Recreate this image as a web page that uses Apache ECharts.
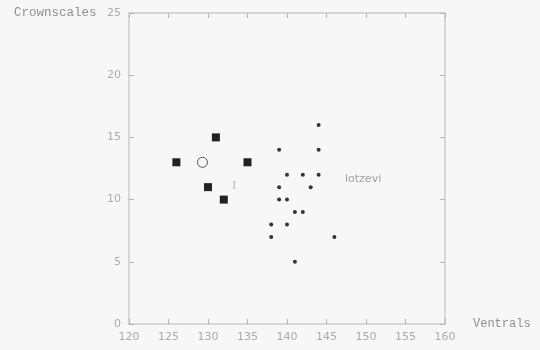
<!DOCTYPE html>
<html><head><meta charset="utf-8">
<script src="https://cdn.jsdelivr.net/npm/echarts@6/dist/echarts.min.js"></script>
<style>html,body{margin:0;padding:0;background:#f7f7f7}#c{width:540px;height:350px}</style>
</head><body><div id="c"></div>
<script>
var xTicks = [120,125,130,135,140,145,150,155,160];
var yTicks = [0,5,10,15,20,25];
var squares = [[131,15],[126,13],[135,13],[130,11],[132,10]];
var openCircle = [[129.3,13]];
var lotzeviDots = [[144,16],[139,14],[144,14],[140,12],[142,12],[144,12],[139,11],[143,11],[139,10],[140,10],[141,9],[142,9],[138,8],[140,8],[138,7],[146,7],[141,5]];

var chart = echarts.init(document.getElementById('c'));
var axisCol = '#cdcdcd';
var labCol = '#ababab';
function xa(pos, showLab){
  return {type:'value', position:pos, min:xTicks[0], max:xTicks[xTicks.length-1], interval:5,
    axisLine:{show:true, onZero:false, lineStyle:{color:axisCol, width:1.5}},
    axisTick:{show:true, inside:true, length:5, lineStyle:{color:'#b5b5b5'}},
    axisLabel:{show:showLab, color:labCol, fontFamily:'DejaVu Sans', fontSize:11, margin:8},
    splitLine:{show:false}};
}
function ya(pos, showLab){
  return {type:'value', position:pos, min:yTicks[0], max:yTicks[yTicks.length-1], interval:5,
    axisLine:{show:true, onZero:false, lineStyle:{color:axisCol, width:1.5}},
    axisTick:{show:true, inside:true, length:5, lineStyle:{color:'#b5b5b5'}},
    axisLabel:{show:showLab, color:labCol, fontFamily:'DejaVu Sans', fontSize:11, margin:8},
    splitLine:{show:false}};
}
var xb = xa('bottom', true);
xb.name = 'Ventrals'; xb.nameLocation = 'end'; xb.nameGap = 28;
xb.nameTextStyle = {color:'#8f8f8f', fontFamily:'Liberation Mono', fontSize:12, verticalAlign:'middle'};
chart.setOption({
  backgroundColor:'#f7f7f7',
  animation:false,
  grid:{left:129, right:95, top:13, bottom:26},
  xAxis:[xb, xa('top', false)],
  yAxis:[ya('left', true), ya('right', false)],
  graphic:[
    {type:'text', left:14, top:6, style:{text:'Crownscales', fill:'#8f8f8f', font:'12.5px "Liberation Mono"'}},
    {type:'text', left:345, top:174, style:{text:'lotzevi', fill:'#a0a0a0', font:'11px "DejaVu Sans"'}},
    {type:'text', left:232, top:179, style:{text:'I', fill:'#b8b8b8', font:'13px "Liberation Serif"'}}
  ],
  series:[
    {type:'scatter', data:squares, symbol:'rect', symbolSize:8, itemStyle:{color:'#222', opacity:1}},
    {type:'scatter', data:openCircle, symbol:'circle', symbolSize:10, itemStyle:{color:'#f7f7f7', borderColor:'#555', borderWidth:1, opacity:1}},
    {type:'scatter', data:lotzeviDots, symbol:'circle', symbolSize:4, itemStyle:{color:'#333', opacity:1}}
  ]
});
</script></body></html>
